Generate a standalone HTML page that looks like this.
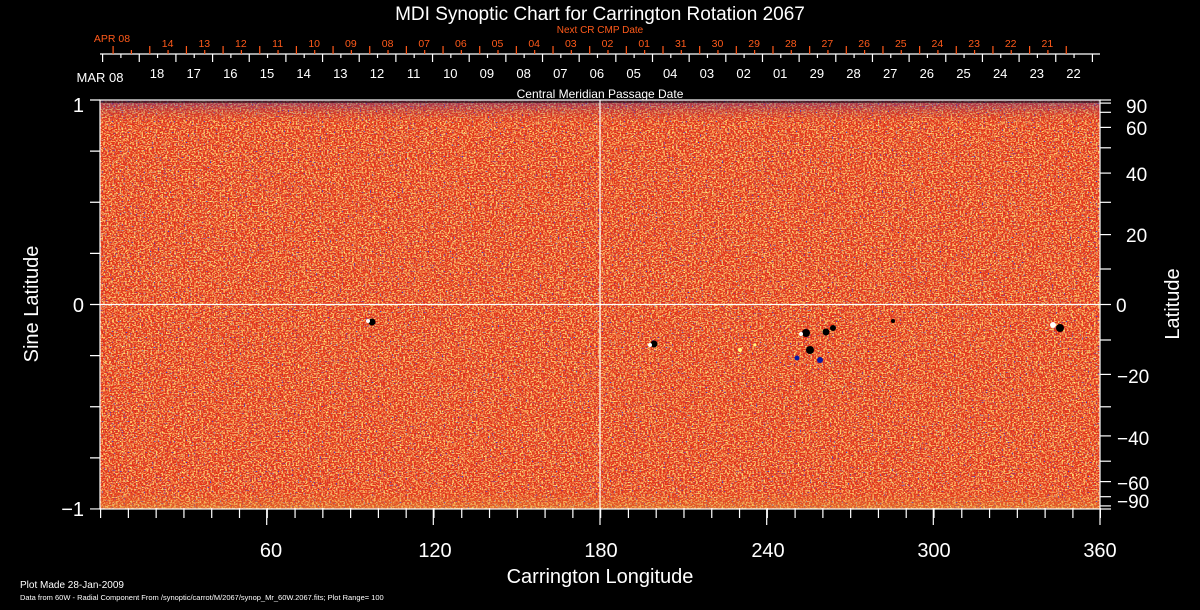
<!DOCTYPE html>
<html><head><meta charset="utf-8"><style>
html,body{margin:0;padding:0;background:#000;width:1200px;height:610px;overflow:hidden}
svg{display:block}
text{font-family:"Liberation Sans",sans-serif}
</style></head><body>
<svg width="1200" height="610" viewBox="0 0 1200 610" xmlns="http://www.w3.org/2000/svg">
<defs>
<filter id="n1" x="0" y="0" width="100%" height="100%">
<feTurbulence type="fractalNoise" baseFrequency="0.55 0.75" numOctaves="1" seed="4"/>
<feColorMatrix type="matrix" values="0 0 0 0 0.98  0 0 0 0 0.52  0 0 0 0 0.15  6 0 0 0 -2.8"/>
</filter>
<filter id="n2" x="0" y="0" width="100%" height="100%">
<feTurbulence type="fractalNoise" baseFrequency="0.5 0.8" numOctaves="1" seed="11"/>
<feColorMatrix type="matrix" values="0 0 0 0 0.05  0 0 0 0 0.05  0 0 0 0 0.7  10 0 0 0 -6.6"/>
</filter>
<filter id="n3" x="0" y="0" width="100%" height="100%">
<feTurbulence type="fractalNoise" baseFrequency="0.5 0.8" numOctaves="1" seed="23"/>
<feColorMatrix type="matrix" values="0 0 0 0 1  0 0 0 0 0.95  0 0 0 0 0.2  10 0 0 0 -6.5"/>
</filter>
<linearGradient id="edge" x1="0" y1="0" x2="0" y2="1">
<stop offset="0" stop-color="#4030a0" stop-opacity="0.45"/>
<stop offset="0.06" stop-color="#e84a20" stop-opacity="0"/>
<stop offset="0.95" stop-color="#e84a20" stop-opacity="0"/>
<stop offset="1" stop-color="#e0b040" stop-opacity="0.4"/>
</linearGradient>
</defs>

<!-- plot area -->
<rect x="100" y="100" width="1000" height="409" fill="#e2321a"/>
<rect x="100" y="100" width="1000" height="409" filter="url(#n1)"/>
<rect x="100" y="100" width="1000" height="409" filter="url(#n2)"/>
<rect x="100" y="100" width="1000" height="409" filter="url(#n3)"/>
<rect x="100" y="100" width="1000" height="409" fill="url(#edge)"/>
<rect x="100" y="100" width="1000" height="3" fill="#000" opacity="0.5"/>

<!-- spots -->
<circle cx="372" cy="322" r="3.5" fill="#000"/><circle cx="368" cy="321" r="2" fill="#fff"/>
<circle cx="654" cy="344" r="3.5" fill="#000"/><circle cx="650" cy="345" r="2" fill="#fff"/>
<circle cx="806" cy="333" r="4" fill="#000"/><circle cx="801" cy="334" r="2" fill="#fff"/>
<circle cx="810" cy="350" r="4" fill="#000"/><circle cx="826" cy="332" r="3.5" fill="#000"/>
<circle cx="833" cy="328" r="3" fill="#000"/><circle cx="797" cy="358" r="2.5" fill="#0a1aa0"/>
<circle cx="820" cy="360" r="3" fill="#0a1aa0"/><circle cx="893" cy="321" r="2" fill="#000"/>
<circle cx="1060" cy="328" r="4" fill="#000"/><circle cx="1053" cy="325" r="3" fill="#fff"/>
<circle cx="740" cy="350" r="2" fill="#ffff80"/><circle cx="755" cy="345" r="1.5" fill="#ffff80"/>

<!-- crosshair -->
<line x1="100" y1="304.5" x2="1100" y2="304.5" stroke="#fff" stroke-width="1.2"/>
<line x1="600" y1="100" x2="600" y2="509" stroke="#fff" stroke-width="1.2"/>
<rect x="100" y="100" width="1000" height="409" fill="none" stroke="#fff" stroke-width="1.2"/>

<!-- top axis -->
<line x1="100" y1="54" x2="1100" y2="54" stroke="#fff" stroke-width="1.2"/>
<line x1="102" y1="58" x2="1100" y2="58" stroke="#fff" stroke-width="8" stroke-dasharray="1.2 35.46"/>
<line x1="120.3" y1="56" x2="1100" y2="56" stroke="#fff" stroke-width="4" stroke-dasharray="1.2 35.46"/>
<line x1="112.5" y1="50" x2="1067" y2="50" stroke="#ff5a1a" stroke-width="8" stroke-dasharray="1.2 35.46"/>
<line x1="130.8" y1="52" x2="1067" y2="52" stroke="#ff5a1a" stroke-width="4" stroke-dasharray="1.2 35.46"/>

<text x="600" y="20" fill="#fff" font-size="19" text-anchor="middle">MDI Synoptic Chart for Carrington Rotation 2067</text>
<text x="600" y="33" fill="#ff5a1a" font-size="10" text-anchor="middle">Next CR CMP Date</text>
<text x="600" y="98" fill="#fff" font-size="12" text-anchor="middle">Central Meridian Passage Date</text>

<g fill="#ff5a1a" font-size="10.5" text-anchor="middle">
<text x="112" y="42">APR 08</text>
<text x="167.6" y="47">14</text><text x="204.3" y="47">13</text><text x="240.9" y="47">12</text><text x="277.6" y="47">11</text><text x="314.2" y="47">10</text><text x="350.9" y="47">09</text><text x="387.6" y="47">08</text><text x="424.2" y="47">07</text><text x="460.9" y="47">06</text><text x="497.5" y="47">05</text><text x="534.2" y="47">04</text><text x="570.8" y="47">03</text><text x="607.5" y="47">02</text><text x="644.2" y="47">01</text><text x="680.8" y="47">31</text><text x="717.5" y="47">30</text><text x="754.1" y="47">29</text><text x="790.8" y="47">28</text><text x="827.4" y="47">27</text><text x="864.1" y="47">26</text><text x="900.8" y="47">25</text><text x="937.4" y="47">24</text><text x="974.1" y="47">23</text><text x="1010.7" y="47">22</text><text x="1047.4" y="47">21</text>
</g>
<g fill="#fff" font-size="13" text-anchor="middle">
<text x="100" y="82">MAR 08</text>
<text x="157" y="78">18</text><text x="193.7" y="78">17</text><text x="230.3" y="78">16</text><text x="267" y="78">15</text><text x="303.6" y="78">14</text><text x="340.3" y="78">13</text><text x="377" y="78">12</text><text x="413.6" y="78">11</text><text x="450.3" y="78">10</text><text x="486.9" y="78">09</text><text x="523.6" y="78">08</text><text x="560.3" y="78">07</text><text x="596.9" y="78">06</text><text x="633.6" y="78">05</text><text x="670.2" y="78">04</text><text x="706.9" y="78">03</text><text x="743.6" y="78">02</text><text x="780.2" y="78">01</text><text x="816.9" y="78">29</text><text x="853.5" y="78">28</text><text x="890.2" y="78">27</text><text x="926.8" y="78">26</text><text x="963.5" y="78">25</text><text x="1000.2" y="78">24</text><text x="1036.8" y="78">23</text><text x="1073.5" y="78">22</text>
</g>

<!-- left axis -->
<line x1="95" y1="99.4" x2="95" y2="510" stroke="#fff" stroke-width="10" stroke-dasharray="1.2 49.92"/>
<g fill="#fff" font-size="20" text-anchor="end">
<text x="84" y="112">1</text><text x="84" y="312">0</text><text x="84" y="516">−1</text>
</g>
<text transform="translate(38 304) rotate(-90)" fill="#fff" font-size="20" text-anchor="middle">Sine Latitude</text>

<!-- right axis -->
<g stroke="#fff" stroke-width="1.2">
<line x1="1100" y1="100" x2="1111" y2="100"/><line x1="1100" y1="103.1" x2="1111" y2="103.1"/><line x1="1100" y1="112.3" x2="1111" y2="112.3"/><line x1="1100" y1="127.4" x2="1111" y2="127.4"/><line x1="1100" y1="147.8" x2="1111" y2="147.8"/><line x1="1100" y1="173.1" x2="1111" y2="173.1"/><line x1="1100" y1="202.3" x2="1111" y2="202.3"/><line x1="1100" y1="234.6" x2="1111" y2="234.6"/><line x1="1100" y1="269" x2="1111" y2="269"/><line x1="1100" y1="304.5" x2="1111" y2="304.5"/><line x1="1100" y1="340" x2="1111" y2="340"/><line x1="1100" y1="374.4" x2="1111" y2="374.4"/><line x1="1100" y1="406.8" x2="1111" y2="406.8"/><line x1="1100" y1="435.9" x2="1111" y2="435.9"/><line x1="1100" y1="461.2" x2="1111" y2="461.2"/><line x1="1100" y1="481.6" x2="1111" y2="481.6"/><line x1="1100" y1="496.7" x2="1111" y2="496.7"/><line x1="1100" y1="505.9" x2="1111" y2="505.9"/><line x1="1100" y1="509" x2="1111" y2="509"/>
</g>
<g fill="#fff" font-size="19">
<text x="1126" y="113">90</text><text x="1126" y="135">60</text><text x="1126" y="181">40</text><text x="1126" y="242">20</text><text x="1116" y="312">0</text>
<text x="1117" y="383">−20</text><text x="1117" y="445">−40</text><text x="1117" y="490">−60</text><text x="1117" y="508">−90</text>
</g>
<text transform="translate(1179 304) rotate(-90)" fill="#fff" font-size="20" text-anchor="middle">Latitude</text>

<!-- bottom axis -->
<line x1="100" y1="513" x2="1101" y2="513" stroke="#fff" stroke-width="10" stroke-dasharray="1.2 26.58"/>
<g stroke="#fff" stroke-width="1.2">
<line x1="266.7" y1="509" x2="266.7" y2="525"/><line x1="433.3" y1="509" x2="433.3" y2="525"/><line x1="600" y1="509" x2="600" y2="525"/><line x1="766.7" y1="509" x2="766.7" y2="525"/><line x1="933.3" y1="509" x2="933.3" y2="525"/><line x1="1100" y1="509" x2="1100" y2="525"/>
</g>
<g fill="#fff" font-size="20" text-anchor="middle">
<text x="271" y="557">60</text><text x="435" y="557">120</text><text x="601" y="557">180</text><text x="768" y="557">240</text><text x="934" y="557">300</text><text x="1100" y="557">360</text>
</g>
<text x="600" y="583" fill="#fff" font-size="20" text-anchor="middle">Carrington Longitude</text>

<text x="20" y="588" fill="#fff" font-size="10">Plot Made 28-Jan-2009</text>
<text x="20" y="600" fill="#fff" font-size="7.5">Data from 60W - Radial Component From /synoptic/carrot/M/2067/synop_Mr_60W.2067.fits; Plot Range=  100</text>
</svg>
</body></html>
